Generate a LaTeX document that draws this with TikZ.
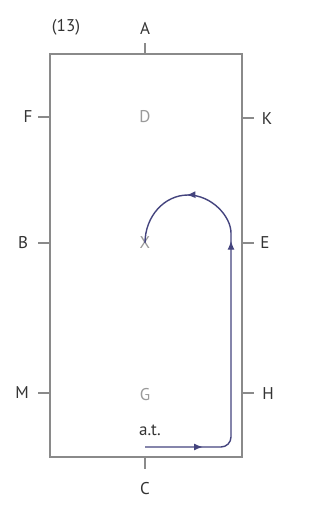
\documentclass[tikz,border=0pt]{standalone}
\usepackage{fontspec}
\setmainfont{PT Sans}
\usetikzlibrary{arrows.meta,decorations.markings}
\definecolor{framec}{HTML}{8A8A8A}
\definecolor{labc}{HTML}{333333}
\definecolor{inc}{HTML}{9A9A9A}
\definecolor{routec}{HTML}{44447E}
\begin{document}
\begin{tikzpicture}[x=1pt,y=-1pt,
  frame/.style={draw=framec,line width=1.3pt},
  tick/.style={draw=framec,line width=1.1pt},
  lab/.style={text=labc,font=\fontsize{17}{17}\selectfont,inner sep=0pt},
  inlab/.style={text=inc,font=\fontsize{17}{17}\selectfont,inner sep=0pt},
  route/.style={draw=routec,line width=1.4pt}]
\useasboundingbox (0,0) rectangle (333,515);
\fill[white] (0,0) rectangle (333,515);
% arena
\path[frame] (50,54) rectangle (242,457);
% letters
\node[lab] (n13) at (66,27) {(13)};
\node[lab] (A) at (145,28) {A};
\node[lab] (C) at (145,489) {C};
\node[lab] (F) at (28,117) {F};
\node[lab] (K) at (267,119) {K};
\node[lab] (B) at (23,243) {B};
\node[lab] (E) at (265,243) {E};
\node[lab] (M) at (22,393) {M};
\node[lab] (H) at (268,394) {H};
\node[inlab] (D) at (145,117) {D};
\node[inlab] (X) at (145,243) {X};
\node[inlab] (G) at (145,395) {G};
\node[lab] (at) at (150,430) {a.t.};
% ticks
\coordinate (a0) at (145,54);
\coordinate (c0) at (145,457);
\coordinate (f0) at (50,117);
\coordinate (b0) at (50,243);
\coordinate (m0) at (50,393);
\coordinate (k0) at (242,118);
\coordinate (e0) at (242,243);
\coordinate (h0) at (242,393);
\path[tick] (a0) -- ++(0,-11);
\path[tick] (c0) -- ++(0,12);
\path[tick] (f0) -- ++(-12,0);
\path[tick] (b0) -- ++(-12,0);
\path[tick] (m0) -- ++(-12,0);
\path[tick] (k0) -- ++(12,0);
\path[tick] (e0) -- ++(12,0);
\path[tick] (h0) -- ++(12,0);
% route
\coordinate (s) at (145,447);
\coordinate (corner) at (231,447);
\coordinate (r) at (231,243);
\path[route,postaction={decorate},
  decoration={markings,
    mark=at position 58pt with {\arrow{Latex[length=9pt,width=7pt]}},
    mark=at position 288pt with {\arrow{Latex[length=9pt,width=7pt]}},
    mark=at position 360pt with {\arrow{Latex[length=9pt,width=7pt]}}}]
  [rounded corners=10pt] (s) -- (corner) -- (r) [sharp corners]
  arc[start angle=0,end angle=-180,x radius=43,y radius=48];
\end{tikzpicture}
\end{document}
